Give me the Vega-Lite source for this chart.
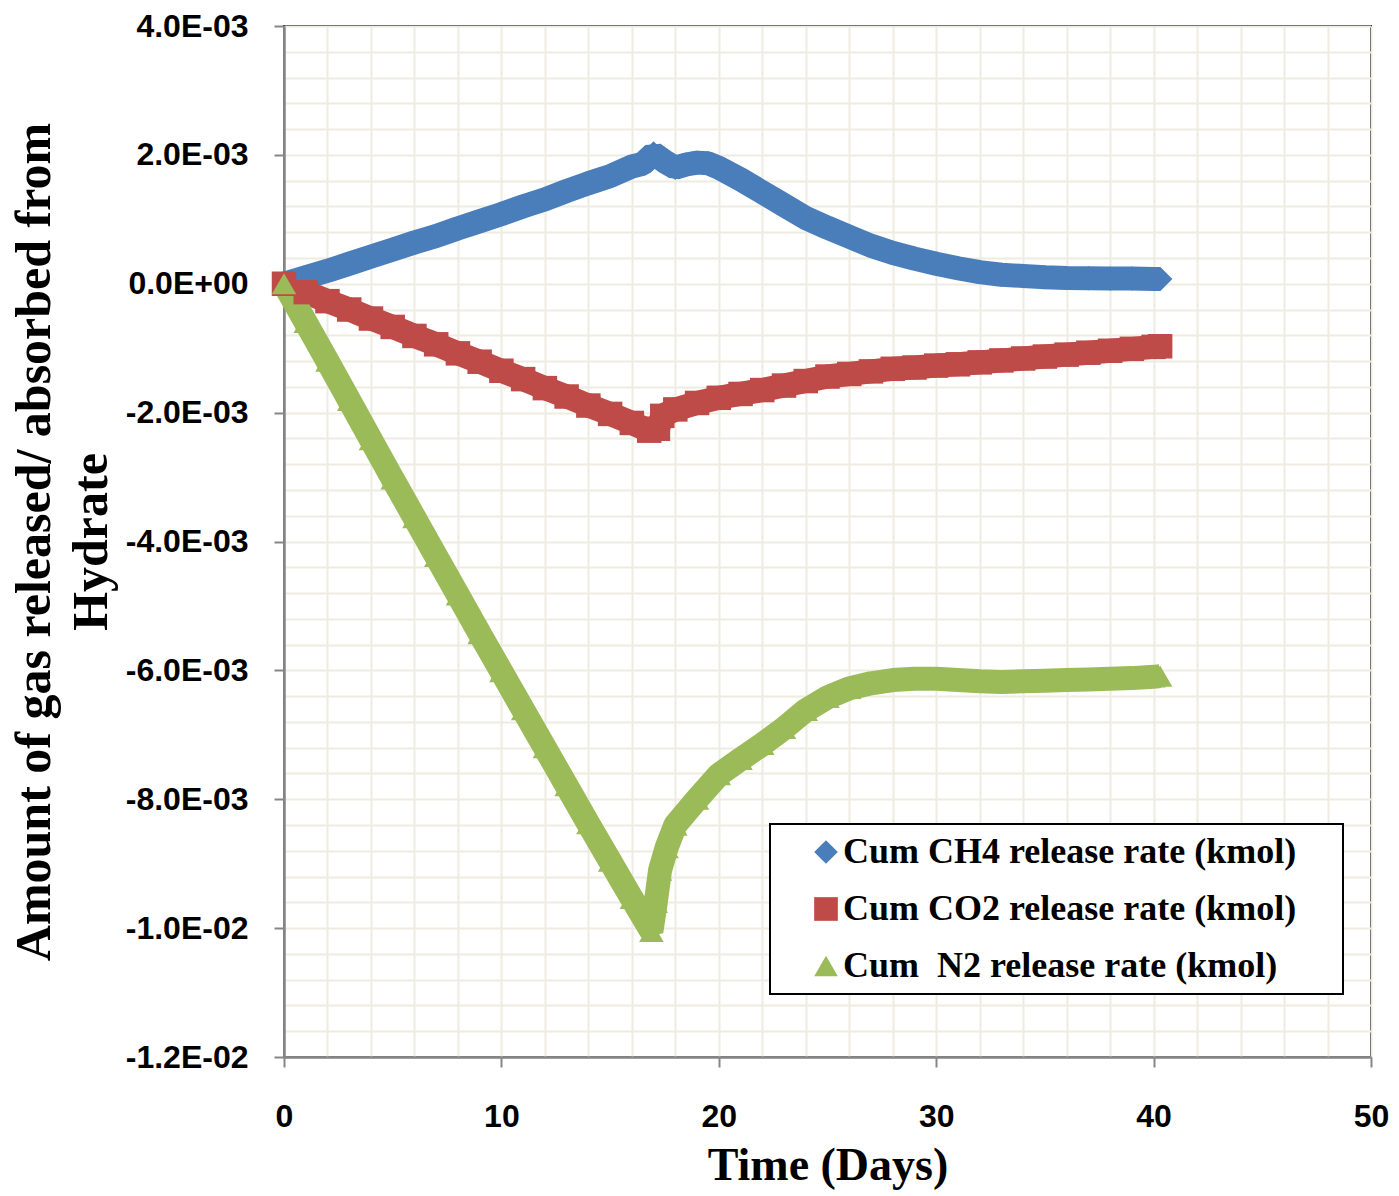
{
  "$schema": "https://vega.github.io/schema/vega-lite/v6.json",
  "autosize": {"type": "none"},
  "width": 1087,
  "height": 1031,
  "padding": {"left": 284, "top": 26, "right": 28, "bottom": 139},
  "background": "white",
  "config": {
    "view": {"stroke": "black", "strokeWidth": 2},
    "legend": {
      "orient": "none",
      "legendX": 486,
      "legendY": 798,
      "padding": 10,
      "symbolOffset": 28,
      "labelOffset": -1,
      "labelFont": "Liberation Serif",
      "labelFontWeight": "bold",
      "labelFontSize": 36,
      "labelColor": "black",
      "rowPadding": 21,
      "symbolSize": 560,
      "symbolStrokeWidth": 0,
      "strokeColor": "black",
      "strokeWidth": 2,
      "fillColor": "white",
      "labelLimit": 800
    }
  },
  "data": {
    "values": [
      {"s": "CH4", "d": 0, "v": 0},
      {"s": "CH4", "d": 1, "v": 0.1e-3},
      {"s": "CH4", "d": 2, "v": 0.2e-3},
      {"s": "CH4", "d": 3, "v": 0.31e-3},
      {"s": "CH4", "d": 4, "v": 0.42e-3},
      {"s": "CH4", "d": 5, "v": 0.53e-3},
      {"s": "CH4", "d": 6, "v": 0.64e-3},
      {"s": "CH4", "d": 7, "v": 0.74e-3},
      {"s": "CH4", "d": 8, "v": 0.86e-3},
      {"s": "CH4", "d": 9, "v": 0.97e-3},
      {"s": "CH4", "d": 10, "v": 1.08e-3},
      {"s": "CH4", "d": 11, "v": 1.2e-3},
      {"s": "CH4", "d": 12, "v": 1.31e-3},
      {"s": "CH4", "d": 13, "v": 1.44e-3},
      {"s": "CH4", "d": 14, "v": 1.56e-3},
      {"s": "CH4", "d": 15, "v": 1.67e-3},
      {"s": "CH4", "d": 16, "v": 1.82e-3},
      {"s": "CH4", "d": 16.5, "v": 1.86e-3},
      {"s": "CH4", "d": 17, "v": 2.02e-3},
      {"s": "CH4", "d": 17.5, "v": 1.9e-3},
      {"s": "CH4", "d": 18, "v": 1.8e-3},
      {"s": "CH4", "d": 18.5, "v": 1.85e-3},
      {"s": "CH4", "d": 19, "v": 1.88e-3},
      {"s": "CH4", "d": 19.5, "v": 1.87e-3},
      {"s": "CH4", "d": 20, "v": 1.8e-3},
      {"s": "CH4", "d": 21, "v": 1.62e-3},
      {"s": "CH4", "d": 22, "v": 1.42e-3},
      {"s": "CH4", "d": 23, "v": 1.22e-3},
      {"s": "CH4", "d": 24, "v": 1.02e-3},
      {"s": "CH4", "d": 25, "v": 0.87e-3},
      {"s": "CH4", "d": 26, "v": 0.73e-3},
      {"s": "CH4", "d": 27, "v": 0.59e-3},
      {"s": "CH4", "d": 28, "v": 0.48e-3},
      {"s": "CH4", "d": 29, "v": 0.39e-3},
      {"s": "CH4", "d": 30, "v": 0.31e-3},
      {"s": "CH4", "d": 31, "v": 0.24e-3},
      {"s": "CH4", "d": 32, "v": 0.18e-3},
      {"s": "CH4", "d": 33, "v": 0.14e-3},
      {"s": "CH4", "d": 34, "v": 0.12e-3},
      {"s": "CH4", "d": 35, "v": 0.1e-3},
      {"s": "CH4", "d": 36, "v": 0.09e-3},
      {"s": "CH4", "d": 37, "v": 0.085e-3},
      {"s": "CH4", "d": 38, "v": 0.08e-3},
      {"s": "CH4", "d": 39, "v": 0.08e-3},
      {"s": "CH4", "d": 40, "v": 0.075e-3},
      {"s": "CH4", "d": 40.3, "v": 0.075e-3},
      {"s": "CO2", "d": 0, "v": 0},
      {"s": "CO2", "d": 1, "v": -0.13e-3},
      {"s": "CO2", "d": 2, "v": -0.27e-3},
      {"s": "CO2", "d": 3, "v": -0.4e-3},
      {"s": "CO2", "d": 4, "v": -0.54e-3},
      {"s": "CO2", "d": 5, "v": -0.67e-3},
      {"s": "CO2", "d": 6, "v": -0.81e-3},
      {"s": "CO2", "d": 7, "v": -0.94e-3},
      {"s": "CO2", "d": 8, "v": -1.08e-3},
      {"s": "CO2", "d": 9, "v": -1.21e-3},
      {"s": "CO2", "d": 10, "v": -1.35e-3},
      {"s": "CO2", "d": 11, "v": -1.48e-3},
      {"s": "CO2", "d": 12, "v": -1.62e-3},
      {"s": "CO2", "d": 13, "v": -1.75e-3},
      {"s": "CO2", "d": 14, "v": -1.89e-3},
      {"s": "CO2", "d": 15, "v": -2.02e-3},
      {"s": "CO2", "d": 16, "v": -2.16e-3},
      {"s": "CO2", "d": 16.8, "v": -2.28e-3},
      {"s": "CO2", "d": 17.2, "v": -2.25e-3},
      {"s": "CO2", "d": 17.4, "v": -2.05e-3},
      {"s": "CO2", "d": 18, "v": -1.95e-3},
      {"s": "CO2", "d": 19, "v": -1.85e-3},
      {"s": "CO2", "d": 20, "v": -1.77e-3},
      {"s": "CO2", "d": 21, "v": -1.71e-3},
      {"s": "CO2", "d": 22, "v": -1.65e-3},
      {"s": "CO2", "d": 23, "v": -1.58e-3},
      {"s": "CO2", "d": 24, "v": -1.51e-3},
      {"s": "CO2", "d": 25, "v": -1.44e-3},
      {"s": "CO2", "d": 26, "v": -1.4e-3},
      {"s": "CO2", "d": 27, "v": -1.36e-3},
      {"s": "CO2", "d": 28, "v": -1.32e-3},
      {"s": "CO2", "d": 29, "v": -1.3e-3},
      {"s": "CO2", "d": 30, "v": -1.27e-3},
      {"s": "CO2", "d": 31, "v": -1.25e-3},
      {"s": "CO2", "d": 32, "v": -1.22e-3},
      {"s": "CO2", "d": 33, "v": -1.19e-3},
      {"s": "CO2", "d": 34, "v": -1.16e-3},
      {"s": "CO2", "d": 35, "v": -1.13e-3},
      {"s": "CO2", "d": 36, "v": -1.1e-3},
      {"s": "CO2", "d": 37, "v": -1.07e-3},
      {"s": "CO2", "d": 38, "v": -1.04e-3},
      {"s": "CO2", "d": 39, "v": -1.01e-3},
      {"s": "CO2", "d": 40, "v": -0.98e-3},
      {"s": "CO2", "d": 40.3, "v": -0.97e-3},
      {"s": "N2", "d": 0, "v": 0},
      {"s": "N2", "d": 1, "v": -0.6e-3},
      {"s": "N2", "d": 2, "v": -1.2e-3},
      {"s": "N2", "d": 3, "v": -1.81e-3},
      {"s": "N2", "d": 4, "v": -2.42e-3},
      {"s": "N2", "d": 5, "v": -3.03e-3},
      {"s": "N2", "d": 6, "v": -3.63e-3},
      {"s": "N2", "d": 7, "v": -4.23e-3},
      {"s": "N2", "d": 8, "v": -4.83e-3},
      {"s": "N2", "d": 9, "v": -5.43e-3},
      {"s": "N2", "d": 10, "v": -6.02e-3},
      {"s": "N2", "d": 11, "v": -6.61e-3},
      {"s": "N2", "d": 12, "v": -7.2e-3},
      {"s": "N2", "d": 13, "v": -7.79e-3},
      {"s": "N2", "d": 14, "v": -8.38e-3},
      {"s": "N2", "d": 15, "v": -8.96e-3},
      {"s": "N2", "d": 16, "v": -9.54e-3},
      {"s": "N2", "d": 16.9, "v": -10.05e-3},
      {"s": "N2", "d": 17.1, "v": -9.6e-3},
      {"s": "N2", "d": 17.3, "v": -9.1e-3},
      {"s": "N2", "d": 17.6, "v": -8.75e-3},
      {"s": "N2", "d": 18, "v": -8.4e-3},
      {"s": "N2", "d": 19, "v": -8.0e-3},
      {"s": "N2", "d": 20, "v": -7.62e-3},
      {"s": "N2", "d": 21, "v": -7.38e-3},
      {"s": "N2", "d": 22, "v": -7.15e-3},
      {"s": "N2", "d": 23, "v": -6.9e-3},
      {"s": "N2", "d": 24, "v": -6.62e-3},
      {"s": "N2", "d": 25, "v": -6.42e-3},
      {"s": "N2", "d": 26, "v": -6.28e-3},
      {"s": "N2", "d": 27, "v": -6.2e-3},
      {"s": "N2", "d": 28, "v": -6.15e-3},
      {"s": "N2", "d": 29, "v": -6.13e-3},
      {"s": "N2", "d": 30, "v": -6.13e-3},
      {"s": "N2", "d": 31, "v": -6.15e-3},
      {"s": "N2", "d": 32, "v": -6.17e-3},
      {"s": "N2", "d": 33, "v": -6.18e-3},
      {"s": "N2", "d": 34, "v": -6.17e-3},
      {"s": "N2", "d": 35, "v": -6.16e-3},
      {"s": "N2", "d": 36, "v": -6.15e-3},
      {"s": "N2", "d": 37, "v": -6.14e-3},
      {"s": "N2", "d": 38, "v": -6.13e-3},
      {"s": "N2", "d": 39, "v": -6.12e-3},
      {"s": "N2", "d": 40, "v": -6.1e-3},
      {"s": "N2", "d": 40.3, "v": -6.09e-3}
    ]
  },
  "encoding": {
    "x": {
      "field": "d",
      "type": "quantitative",
      "scale": {"domain": [0, 50], "nice": false, "zero": false},
      "axis": {
        "title": "Time (Days)",
        "titleFont": "Liberation Serif",
        "titleFontWeight": "bold",
        "titleFontSize": 46,
        "titleColor": "black",
        "titlePadding": 11,
        "values": [0,2,4,6,8,10,12,14,16,18,20,22,24,26,28,30,32,34,36,38,40,42,44,46,48,50],
        "labelExpr": "datum.value % 10 == 0 ? datum.label : ''",
        "labelFont": "Liberation Sans",
        "labelFontWeight": "bold",
        "labelFontSize": 32,
        "labelColor": "black",
        "labelPadding": 34,
        "labelFlush": false,
        "labelOverlap": false,
        "grid": true,
        "gridColor": "#EEECE1",
        "gridWidth": 2,
        "gridOpacity": 1,
        "domainColor": "#868686",
        "domainWidth": 2.5,
        "tickColor": "#868686",
        "tickWidth": 2,
        "tickSize": 10,
        "tickOpacity": {"condition": {"test": "datum.value % 10 == 0", "value": 1}, "value": 0}
      }
    },
    "y": {
      "field": "v",
      "type": "quantitative",
      "scale": {"domain": [-0.012, 0.004], "nice": false, "zero": false},
      "axis": {
        "title": ["Amount of gas released/ absorbed from", "Hydrate"],
        "titleFont": "Liberation Serif",
        "titleFontWeight": "bold",
        "titleFontSize": 50,
        "titleColor": "black",
        "titleLineHeight": 57,
        "titlePadding": 9,
        "values": [-0.012,-0.0116,-0.0112,-0.0108,-0.0104,-0.01,-0.0096,-0.0092,-0.0088,-0.0084,-0.008,-0.0076,-0.0072,-0.0068,-0.0064,-0.006,-0.0056,-0.0052,-0.0048,-0.0044,-0.004,-0.0036,-0.0032,-0.0028,-0.0024,-0.002,-0.0016,-0.0012,-0.0008,-0.0004,0,0.0004,0.0008,0.0012,0.0016,0.002,0.0024,0.0028,0.0032,0.0036,0.004],
        "labelExpr": "abs(datum.value*500 - round(datum.value*500)) > 0.001 ? '' : (abs(datum.value) < 1e-9 ? '0.0E+00' : (abs(datum.value) > 0.0099 ? (datum.value < 0 ? '-' : '') + format(abs(datum.value)*100, '.1f') + 'E-02' : (datum.value < 0 ? '-' : '') + format(abs(datum.value)*1000, '.1f') + 'E-03'))",
        "labelFont": "Liberation Sans",
        "labelFontWeight": "bold",
        "labelFontSize": 32,
        "labelColor": "black",
        "labelPadding": 26,
        "labelFlush": false,
        "labelOverlap": false,
        "grid": true,
        "gridColor": "#EEECE1",
        "gridWidth": 2,
        "gridOpacity": 1,
        "domainColor": "#868686",
        "domainWidth": 2.5,
        "tickColor": "#868686",
        "tickWidth": 2,
        "tickSize": 10,
        "tickOpacity": {"condition": {"test": "abs(datum.value*500 - round(datum.value*500)) < 0.001", "value": 1}, "value": 0}
      }
    },
    "color": {
      "field": "s",
      "type": "nominal",
      "scale": {"domain": ["CH4", "CO2", "N2"], "range": ["#4A7EBB", "#BE4B48", "#9BBB59"]},
      "legend": {
        "title": null,
        "labelExpr": "(datum.label == 'CH4' ? 'Cum CH4 release rate (kmol)' : datum.label == 'CO2' ? 'Cum CO2 release rate (kmol)' : 'Cum\u00a0 N2 release rate (kmol)') + '\u00a0\u00a0\u00a0\u00a0\u200b'"
      }
    }
  },
  "layer": [
    {
      "mark": {"type": "line", "strokeWidth": 24, "strokeJoin": "bevel", "strokeCap": "butt"},
      "encoding": {
        "order": {"field": "d", "type": "quantitative"}
      }
    },
    {
      "mark": {"type": "point", "filled": true, "opacity": 1, "size": 600},
      "encoding": {
        "shape": {
          "field": "s",
          "type": "nominal",
          "scale": {"domain": ["CH4", "CO2", "N2"], "range": ["diamond", "square", "triangle-up"]},
          "legend": {
            "title": null,
            "labelExpr": "(datum.label == 'CH4' ? 'Cum CH4 release rate (kmol)' : datum.label == 'CO2' ? 'Cum CO2 release rate (kmol)' : 'Cum\u00a0 N2 release rate (kmol)') + '\u00a0\u00a0\u00a0\u00a0\u200b'"
          }
        }
      }
    }
  ]
}
